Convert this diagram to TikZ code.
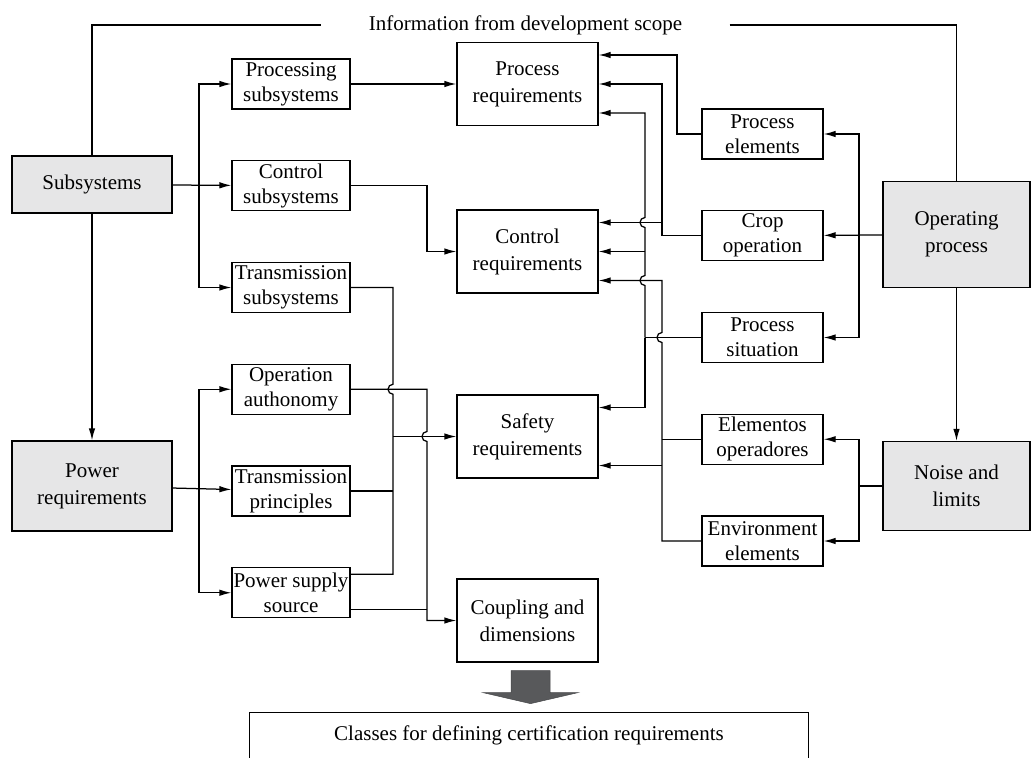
\documentclass[tikz,border=0pt]{standalone}
\usepackage{fontspec}
\setmainfont{Liberation Serif}
\usetikzlibrary{positioning,calc,arrows.meta}

\definecolor{boxgray}{RGB}{230,230,231}
\definecolor{arrowgray}{RGB}{88,89,91}

\begin{document}
\begin{tikzpicture}[
  x=1pt, y=-1pt,
  node distance=50.5pt,
  line width=1.25pt,
  every node/.style={font=\fontsize{21}{25}\selectfont},
  smallbox/.style={draw, align=center, minimum width=118pt, minimum height=50pt, inner xsep=1pt, inner ysep=0pt},
  rightbox/.style={smallbox, minimum width=121pt},
  reqbox/.style={draw, align=center, minimum width=141pt, minimum height=83pt, font=\fontsize{21}{27}\selectfont},
  graybox/.style={draw, fill=boxgray, align=center, font=\fontsize{21}{27}\selectfont},
  arrow/.style={-{Latex[length=12pt,width=6.5pt]}}
]
\useasboundingbox (0,0) rectangle (1035,757);

% Sources
\node[graybox, minimum width=160pt, minimum height=57pt] (sub) at (92,184.5) {Subsystems};
\node[graybox, minimum width=160pt, minimum height=90pt] (powreq) at (92,486) {Power\\requirements};
\node[graybox, minimum width=147pt, minimum height=106pt] (opproc) at (956.5,234.5) {Operating\\process};
\node[graybox, minimum width=147pt, minimum height=89pt] (noise) at (956.5,486) {Noise and\\limits};

% Left column
\node[smallbox] (procsub) at (291,84) {Processing\\subsystems};
\node[smallbox, below=of procsub] (ctrlsub) {Control\\subsystems};
\node[smallbox, below=of ctrlsub] (transsub) {Transmission\\subsystems};
\node[smallbox, below=of transsub] (opauth) {Operation\\authonomy};
\node[smallbox, below=of opauth] (transprin) {Transmission\\principles};
\node[smallbox, below=of transprin] (powsup) {Power supply\\source};

% Requirements
\node[reqbox] (procreq) at (527.5,84) {Process\\requirements};
\node[reqbox] (ctrlreq) at (527.5,251.5) {Control\\requirements};
\node[reqbox] (safereq) at (527.5,436.5) {Safety\\requirements};
\node[reqbox] (coupdim) at (527.5,620.5) {Coupling and\\dimensions};

% Right column
\node[rightbox] (procelem) at (762.5,134) {Process\\elements};
\node[rightbox, below=of procelem] (cropop) {Crop\\operation};
\node[rightbox, below=of cropop] (procsit) {Process\\situation};
\node[rightbox, below=of procsit] (elemop) {Elementos\\operadores};
\node[rightbox, below=of elemop] (envelem) {Environment\\elements};

% Top label and result
\node[inner xsep=47pt] (info) at (525.5,25) {Information from development scope};
\node[minimum width=558pt, minimum height=44pt] (classes) at (529,735) {Classes for defining certification requirements};
\draw (classes.south west) |- (classes.north east) -- (classes.south east);

\begin{scope}[shift={($(coupdim.south)+(3,0)$)}]
  \filldraw[fill=arrowgray, draw=arrowgray!80!black, line width=0.5pt]
    (-19.5,8) -- (19.5,8) -- (19.5,30) -- (47.5,30) -- (0,41) -- (-47.5,30) -- (-19.5,30) -- cycle;
\end{scope}

% Buses and ports
\coordinate (busA) at (393,0);
\coordinate (busB) at (427,0);
\coordinate (busC) at (645,0);
\coordinate (busD) at (662,0);
\coordinate (busE) at (677,0);
\coordinate (pr1) at ($(procreq.east)+(0,-29)$);
\coordinate (pr3) at ($(procreq.east)+(0,29)$);
\coordinate (cr1) at ($(ctrlreq.east)+(0,-29)$);
\coordinate (cr3) at ($(ctrlreq.east)+(0,29)$);
\coordinate (sr1) at ($(safereq.east)+(0,-29)$);
\coordinate (sr3) at ($(safereq.east)+(0,29)$);
\coordinate (psu1) at ($(powsup.north east)+(0,7)$);
\coordinate (psu2) at ($(powsup.south east)+(0,-9)$);

% Information line
\draw (sub.north) |- (info.west);
\draw (info.east) -| (opproc.north);
\draw[arrow] (sub) -- (powreq);
\draw[arrow] (opproc) -- (noise);

% Left branches
\coordinate (sbr) at ($(sub.east)!0.45!(ctrlsub.west)$);
\draw[arrow] (sub) -- (ctrlsub);
\draw[arrow] (sbr) |- (procsub);
\draw[arrow] (sbr) |- (transsub);
\coordinate (pbr) at ($(powreq.east)!0.45!(transprin.west)$);
\draw[arrow] (powreq) -- (transprin);
\draw[arrow] (pbr) |- (opauth);
\draw[arrow] (pbr) |- (powsup);

% Subsystems to requirements
\draw[arrow] (procsub) -- (procreq);
\draw[arrow] (ctrlsub.east) -| (busB |- ctrlreq.west) -- (ctrlreq.west);
\draw (transsub.east) -| ($(busA |- opauth.east)+(0,-5)$)
  arc[start angle=270, end angle=90, radius=5] |- (psu1);
\draw (transprin.east) -- (busA |- transprin.east);
\draw[arrow] (busA |- safereq.west) -- (safereq.west);
\draw[arrow] (opauth.east) -- (busB |- opauth.east) -- ($(busB |- safereq.west)+(0,-5)$)
  arc[start angle=270, end angle=90, radius=5] |- (coupdim.west);
\draw (psu2) -- (busB |- psu2);

% Right branches
\coordinate (obr) at ($(opproc.west)!0.4!(cropop.east)$);
\draw[arrow] (opproc) -- (cropop);
\draw[arrow] (obr) |- (procelem);
\draw[arrow] (obr) |- (procsit);
\coordinate (nbr) at (obr |- noise.west);
\draw (noise) -- (nbr);
\draw[arrow] (nbr) |- (elemop);
\draw[arrow] (nbr) |- (envelem);

% Process side to requirements
\draw[arrow] (procelem.west) -| (busE |- pr1) -- (pr1);
\draw[arrow] (cropop.west) -| (busD |- procreq.east) -- (procreq.east);
\draw[arrow] (busD |- cr1) -- (cr1);
\draw (procsit.west) -- (busC |- procsit.west);
\draw[arrow] (busC |- procsit.west) -- ($(busC |- cr3)+(0,5)$)
  arc[start angle=90, end angle=270, radius=5] -- ($(busC |- cr1)+(0,5)$)
  arc[start angle=90, end angle=270, radius=5] |- (pr3);
\draw[arrow] (busC |- ctrlreq.east) -- (ctrlreq.east);
\draw[arrow] (busC |- procsit.west) |- (sr1);
\draw[arrow] (envelem.west) -| ($(busD |- procsit.west)+(0,5)$)
  arc[start angle=90, end angle=270, radius=5] |- (cr3);
\draw (elemop.west) -- (busD |- elemop.west);
\draw[arrow] (busD |- sr3) -- (sr3);

\end{tikzpicture}
\end{document}
